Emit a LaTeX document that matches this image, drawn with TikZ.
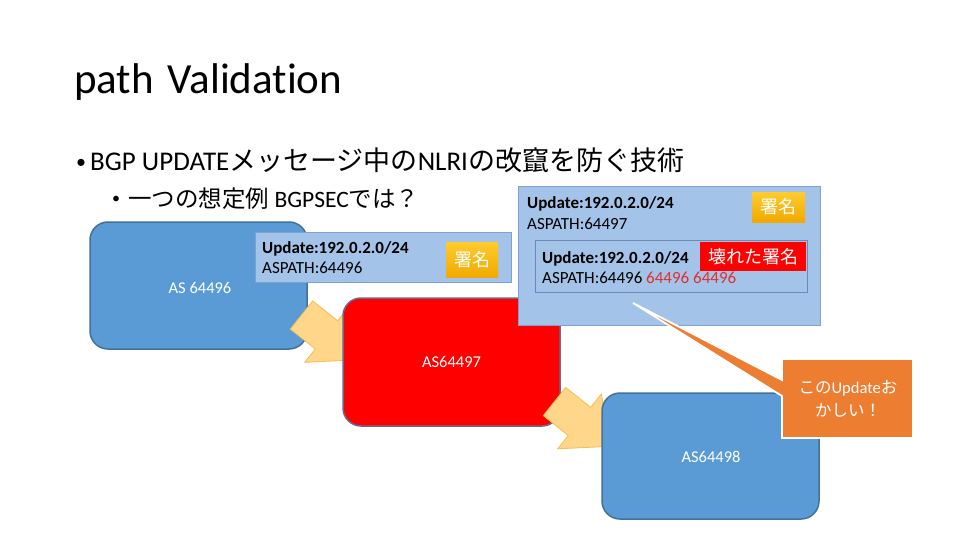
\documentclass[tikz,border=0pt]{standalone}
\usepackage{fontspec}
\setmainfont{Carlito}[Ligatures=NoCommon]
\newfontfamily\jp{Noto Sans CJK JP}
\definecolor{asblue}{HTML}{5B9BD5}
\definecolor{asborder}{HTML}{41719C}
\definecolor{redborder}{HTML}{6A6A90}
\definecolor{lblue}{HTML}{A4C3E8}
\definecolor{lborder}{HTML}{7EA1D2}
\definecolor{goldtop}{HTML}{FFCB2E}
\definecolor{goldbot}{HTML}{F0AA00}
\definecolor{arrowfill}{HTML}{FFD68A}
\definecolor{arrowdraw}{HTML}{F2C04C}
\definecolor{callorange}{HTML}{ED7D31}
\definecolor{redtxt}{HTML}{E03030}
\tikzset{
  asbox/.style={draw=asborder, fill=asblue, line width=1.5pt, rounded corners=18pt, text=white, font=\fontsize{16.5}{20}\selectfont},
  redbox/.style={draw=redborder, fill=red, line width=1.5pt, rounded corners=18pt, text=white, font=\fontsize{16.5}{20}\selectfont},
  msgbox/.style={draw=lborder, fill=lblue, line width=0.8pt},
  sigbox/.style={top color=goldtop, bottom color=goldbot, text=white, inner sep=0pt, font=\jp\fontsize{18}{20}\selectfont},
  brokenbox/.style={fill=red, text=white, inner sep=0pt, font=\jp\fontsize{18}{20}\selectfont},
  msgtxt/.style={anchor=base west, inner sep=0pt, font=\fontsize{17}{20}\selectfont},
  blockarrow/.style={fill=arrowfill, draw=arrowdraw, line width=0.8pt, line join=miter},
}
\begin{document}
\begin{tikzpicture}[x=1pt,y=-1pt]
\useasboundingbox (0,0) rectangle (960,540);
\fill[white] (0,0) rectangle (960,540);

% title and bullets
\node[anchor=base west, inner sep=0pt, font=\fontsize{43}{48}\selectfont] (title) at (74,94) {path\hspace{4pt} Validation};
\node[anchor=base west, inner sep=0pt, font=\fontsize{20}{24}\selectfont] (b1dot) at (76,168) {•};
\node[anchor=base west, inner sep=0pt, font=\fontsize{27}{32}\selectfont] (b1) at (90,171) {BGP UPDATE{\jp メッセージ中の}NLRI{\jp の改竄を防ぐ技術}};
\node[anchor=base west, inner sep=0pt, font=\fontsize{16}{20}\selectfont] (b2dot) at (112,204) {•};
\node[anchor=base west, inner sep=0pt, font=\fontsize{23.5}{27}\selectfont] (b2) at (128,207) {{\jp 一つの想定例} BGPSEC{\jp では？}};

% AS 64496
\node[asbox, minimum width=217, minimum height=127] (as1) at (198.5,285.5) {};
\node[inner sep=0pt, text=white, font=\fontsize{16.5}{20}\selectfont] (as1lbl) at (200,288) {AS 64496};

% update message 1
\node[msgbox, minimum width=256, minimum height=50] (upd1) at (383,257) {};
\node[msgtxt, font=\bfseries\fontsize{17}{20}\selectfont] (upd1a) at (262,253) {Update:192.0.2.0/24};
\node[msgtxt] (upd1b) at (262,273.5) {ASPATH:64496};
\node[sigbox, minimum width=52, minimum height=35] (sig1) at (472,259.5) {署名};

% arrow 1
\filldraw[blockarrow] (312.7,300.9) -- (337.7,320.8) -- (348.3,307.5) -- (357.8,359.8) -- (304.7,362.3) -- (315.3,349.0) -- (290.3,329.1) -- cycle;

% AS64497
\node[redbox, minimum width=217, minimum height=128] (as2) at (451.5,362) {AS64497};

% signed message from AS64497
\node[msgbox, minimum width=302, minimum height=139] (big) at (669,255.5) {};
\node[msgtxt, font=\bfseries\fontsize{17}{20}\selectfont] (biga) at (527,208.5) {Update:192.0.2.0/24};
\node[msgtxt] (bigb) at (527,229.5) {ASPATH:64497};
\node[sigbox, minimum width=53, minimum height=30] (sig2) at (778.5,207) {署名};
\node[msgbox, draw=lborder!85!black, minimum width=272, minimum height=52] (inner) at (671,266) {};
\node[msgtxt, font=\bfseries\fontsize{17}{20}\selectfont] (innera) at (542,263) {Update:192.0.2.0/24};
\node[msgtxt] (innerb) at (542,283.5) {ASPATH:64496 {\color{redtxt}64496 64496}};
\node[brokenbox, minimum width=106, minimum height=29] (broken) at (753,256.5) {壊れた署名};

% arrow 2
\filldraw[blockarrow, shift={(253,86.5)}] (312.7,300.9) -- (337.7,320.8) -- (348.3,307.5) -- (357.8,359.8) -- (304.7,362.3) -- (315.3,349.0) -- (290.3,329.1) -- cycle;

% AS64498
\node[asbox, minimum width=217, minimum height=126] (as3) at (710.5,456) {};
\node[inner sep=0pt, text=white, font=\fontsize{16.5}{20}\selectfont] (as3lbl) at (711,457) {AS64498};

% callout
\coordinate (tip) at (633,303);
\filldraw[fill=callorange, draw=white, line width=1.8pt, line join=miter]
  (782,359) -- (913,359) -- (913,438) -- (782,438) -- (782,396) -- (tip) -- (782,380) -- cycle;
\node[inner sep=0pt, text=white, align=center, font=\fontsize{16.5}{23}\selectfont] (call) at (848,399) {{\jp この}Update{\jp お}\\{\jp かしい！}};
\end{tikzpicture}
\end{document}
